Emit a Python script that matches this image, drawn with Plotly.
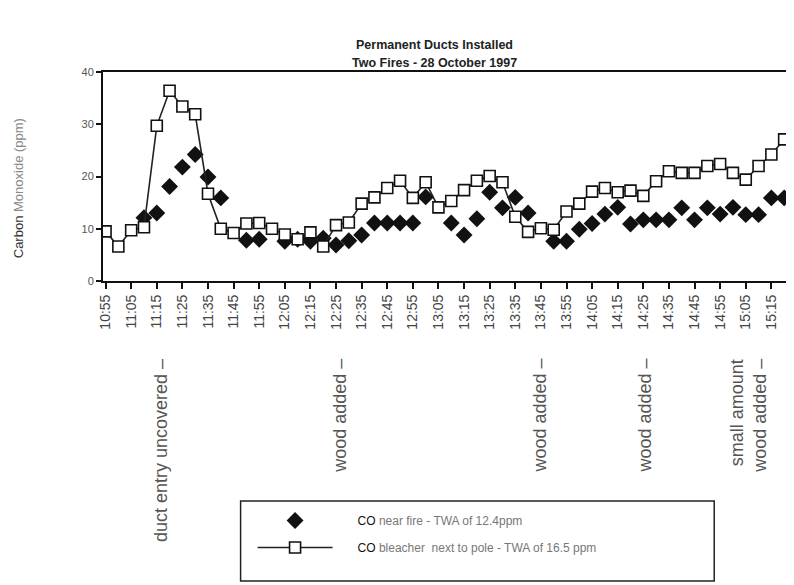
import plotly.graph_objects as go

times = ["10:55","11:00","11:05","11:10","11:15","11:20","11:25","11:30","11:35","11:40",
         "11:45","11:50","11:55","12:00","12:05","12:10","12:15","12:20","12:25","12:30",
         "12:35","12:40","12:45","12:50","12:55","13:00","13:05","13:10","13:15","13:20",
         "13:25","13:30","13:35","13:40","13:45","13:50","13:55","14:00","14:05","14:10",
         "14:15","14:20","14:25","14:30","14:35","14:40","14:45","14:50","14:55","15:00",
         "15:05","15:10","15:15","15:20"]

tick_labels = ["10:55","11:05","11:15","11:25","11:35","11:45","11:55","12:05","12:15",
               "12:25","12:35","12:45","12:55","13:05","13:15","13:25","13:35","13:45",
               "13:55","14:05","14:15","14:25","14:35","14:45","14:55","15:05","15:15"]

co_near_fire = [None, None, None, 12.1, 13.0, 18.1, 21.8, 24.2, 19.9, 15.9,
                None, 7.8, 8.0, None, 7.6, 8.0, 7.6, 8.2, 6.9, 7.7,
                8.8, 11.1, 11.1, 11.1, 11.1, 16.1, None, 11.1, 8.8, 11.9,
                17.0, 14.0, 16.0, 13.0, None, 7.6, 7.6, 9.9, 11.0, 12.8,
                14.1, 10.9, 11.7, 11.7, 11.7, 14.0, 11.7, 14.0, 12.8, 14.1,
                12.7, 12.7, 15.9, 15.9]

co_bleacher = [9.5, 6.6, 9.7, 10.3, 29.7, 36.4, 33.4, 31.9, 16.7, 10.0,
               9.2, 11.0, 11.1, 10.0, 8.9, 8.0, 9.3, 6.6, 10.7, 11.2,
               14.8, 16.0, 17.8, 19.2, 15.9, 18.9, 14.1, 15.3, 17.4, 19.2,
               20.1, 18.9, 12.3, 9.4, 10.1, 9.8, 13.3, 14.8, 17.1, 17.8,
               17.0, 17.3, 16.3, 19.1, 21.0, 20.7, 20.7, 22.0, 22.4, 20.7,
               19.4, 22.0, 24.2, 27.1]

events = [("duct entry uncovered \u2013", "11:15", 0.3),
          ("wood added \u2013", "12:25", 0.3),
          ("wood added \u2013", "13:45", -0.1),
          ("wood added \u2013", "14:25", 0.1),
          ("small amount", "15:05", -0.7),
          ("wood added \u2013", "15:15", -0.9)]

FONT = "Liberation Sans, Arial, sans-serif"
PAD = "\u00a0" * 6

# page offset of the figure inside the html body (default 8px body margin)
OFF = 8
L, T, R, B = 103 - OFF, 72 - OFF, 790 - OFF, 281 - OFF
W, H = 794 - OFF, 585 - OFF
PW, PH = R - L, B - T


def px(xpage):
    return (xpage - OFF - L) / PW


def py(ypage):
    return (B - (ypage - OFF)) / PH


fig = go.Figure()
fig.add_trace(go.Scatter(
    x=times, y=co_near_fire, mode="markers",
    name=PAD + "CO <span style='color:#777'>near fire - TWA of 12.4ppm</span>",
    legendgroup="a",
    marker=dict(symbol="diamond", size=13, color="#111")))
fig.add_trace(go.Scatter(
    x=times, y=co_bleacher, mode="lines+markers",
    name=PAD + "CO <span style='color:#777'>bleacher  next to pole - TWA of 16.5 ppm</span>",
    legendgroup="b",
    line=dict(color="#222", width=1.6),
    marker=dict(symbol="square", size=11, color="white",
                line=dict(color="#111", width=1.6))))

for text, t, dx in events:
    fig.add_annotation(x=times.index(t) + dx, xref="x", y=py(357), yref="paper",
                       text=text, textangle=-90, showarrow=False,
                       xanchor="center", yanchor="top",
                       font=dict(family=FONT, size=18, color="#555"))

fig.add_annotation(x=px(435), y=py(45), xref="paper", yref="paper",
                   text="<b>Permanent Ducts Installed</b>", showarrow=False,
                   xanchor="center", yanchor="middle",
                   font=dict(family=FONT, size=12.5, color="#222"))
fig.add_annotation(x=px(435), y=py(63), xref="paper", yref="paper",
                   text="<b>Two Fires - 28 October 1997</b>", showarrow=False,
                   xanchor="center", yanchor="middle",
                   font=dict(family=FONT, size=12.5, color="#222"))
fig.add_annotation(x=px(18), y=py(188), xref="paper", yref="paper",
                   text="Carbon <span style='color:#888'>Monoxide (ppm)</span>",
                   textangle=-90, showarrow=False, xanchor="center", yanchor="middle",
                   font=dict(family=FONT, size=13, color="#333"))

# legend frame
fig.add_shape(type="rect", xref="paper", yref="paper",
              x0=px(241), x1=px(716), y0=py(581), y1=py(501),
              line=dict(color="#222", width=1.5), fillcolor="white", layer="below")

fig.update_layout(
    width=W, height=H,
    margin=dict(l=L, r=W - R, t=T, b=H - B),
    paper_bgcolor="white", plot_bgcolor="white",
    font=dict(family=FONT, color="#333"),
    showlegend=True,
    legend=dict(x=px(253), y=py(506), xanchor="left", yanchor="top",
                traceorder="grouped", tracegroupgap=8, itemwidth=75,
                font=dict(family=FONT, size=12, color="#111"),
                bgcolor="rgba(0,0,0,0)"),
    xaxis=dict(type="category", categoryorder="array", categoryarray=times,
               range=[-0.2, 53.3], tickmode="array", tickvals=tick_labels,
               ticktext=tick_labels, tickangle=-90, ticks="outside", ticklen=6,
               tickwidth=1.5, tickcolor="#111", showline=True, linecolor="#111",
               linewidth=2, mirror=True, showgrid=False, zeroline=False,
               tickfont=dict(family=FONT, size=14, color="#444")),
    yaxis=dict(range=[0, 40], tickvals=[0, 10, 20, 30, 40], ticks="outside",
               ticklen=5, tickwidth=1.5, tickcolor="#111", showline=True,
               linecolor="#111", linewidth=2, mirror=True, showgrid=False,
               zeroline=False, tickfont=dict(family=FONT, size=11, color="#555")),
)

fig.write_html("out.html")
